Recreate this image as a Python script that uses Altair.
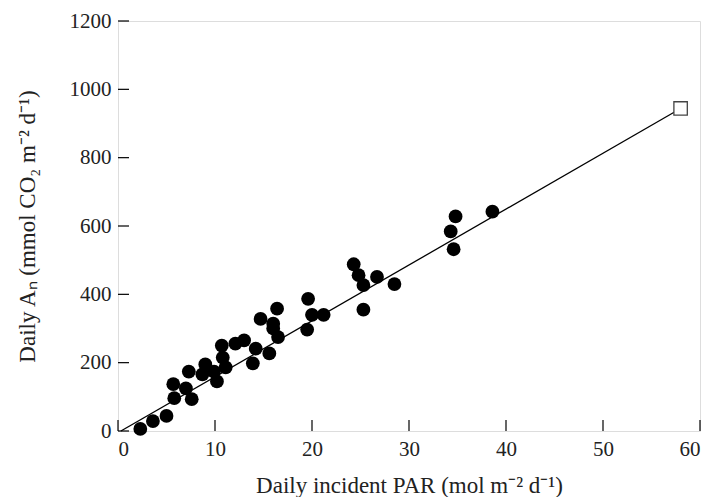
import altair as alt
import pandas as pd

par = [2.3, 3.6, 5.0, 5.7, 5.8, 7.0, 7.6, 7.3, 9.0, 8.7, 9.9, 10.2, 10.7, 10.8, 11.1,
       12.1, 13.0, 14.2, 13.9, 14.7, 15.6, 16.0, 16.4, 16.5, 16.0, 19.5, 19.6, 20.0,
       21.2, 24.3, 24.8, 25.3, 26.7, 25.3, 28.5, 34.3, 34.6, 34.8, 38.6]
an = [6, 29, 44, 137, 96, 125, 93, 174, 195, 166, 174, 145, 250, 215, 186,
      256, 265, 241, 198, 328, 227, 314, 358, 275, 300, 297, 387, 340,
      340, 488, 456, 427, 451, 355, 430, 584, 532, 628, 642]

fit_x = [0.3, 58.0]
fit_y = [0, 944]
open_x = [58.0]
open_y = [944]

x_ticks = [0, 10, 20, 30, 40, 50, 60]
y_ticks = [0, 200, 400, 600, 800, 1000, 1200]

W, H = 582, 410
FONT = "Liberation Serif"

pts = pd.DataFrame({"x": par, "y": an})
fit = pd.DataFrame({"x": fit_x, "y": fit_y})
opn = pd.DataFrame({"x": open_x, "y": open_y})
xt = pd.DataFrame({"v": x_ticks})
yt = pd.DataFrame({"v": y_ticks})

xs = alt.Scale(domain=[0, 60], nice=False, zero=False)
ys = alt.Scale(domain=[0, 1200], nice=False, zero=False)

xaxis = alt.Axis(values=x_ticks, format="d", titlePadding=15,
                 title="Daily incident PAR (mol m\u207b\u00b2 d\u207b\u00b9)")
yaxis = alt.Axis(values=y_ticks, format="d", titlePadding=30,
                 title="Daily A\u2099 (mmol CO\u2082 m\u207b\u00b2 d\u207b\u00b9)")

line = alt.Chart(fit).mark_line(color="black", strokeWidth=1.3).encode(
    x=alt.X("x:Q", scale=xs, axis=xaxis),
    y=alt.Y("y:Q", scale=ys, axis=yaxis),
)

dots = alt.Chart(pts).mark_point(shape="circle", filled=True, color="black",
                                 size=190, opacity=1).encode(
    x=alt.X("x:Q", scale=xs, axis=xaxis), y=alt.Y("y:Q", scale=ys, axis=yaxis))

sq = alt.Chart(opn).mark_point(shape="square", filled=True, fill="white",
                               stroke="#444", strokeWidth=1.3, size=180,
                               opacity=1).encode(
    x=alt.X("x:Q", scale=xs, axis=xaxis), y=alt.Y("y:Q", scale=ys, axis=yaxis))

xtick = alt.Chart(xt).mark_rule(color="black", strokeWidth=1.2).encode(
    x=alt.X("v:Q", scale=xs, axis=xaxis), y=alt.value(H), y2=alt.value(H - 11))
ytick = alt.Chart(yt).mark_rule(color="black", strokeWidth=1.2).encode(
    y=alt.Y("v:Q", scale=ys, axis=yaxis), x=alt.value(0), x2=alt.value(11))

chart = alt.layer(line, xtick, ytick, dots, sq).properties(
    width=W, height=H,
    autosize=alt.AutoSizeParams(type="none"),
    padding={"left": 110, "top": 13, "right": 10, "bottom": 66},
).configure_view(stroke="#222", strokeWidth=1.3).configure(
    background="white"
).configure_axis(
    ticks=False, domain=False, grid=False,
    labelFont=FONT, labelFontSize=21, labelColor="#222", labelPadding=7,
    titleFont=FONT, titleFontSize=23, titleFontWeight="normal",
    titleColor="#222",
)

chart.save("out.html", embed_options={"renderer": "svg", "actions": False})
